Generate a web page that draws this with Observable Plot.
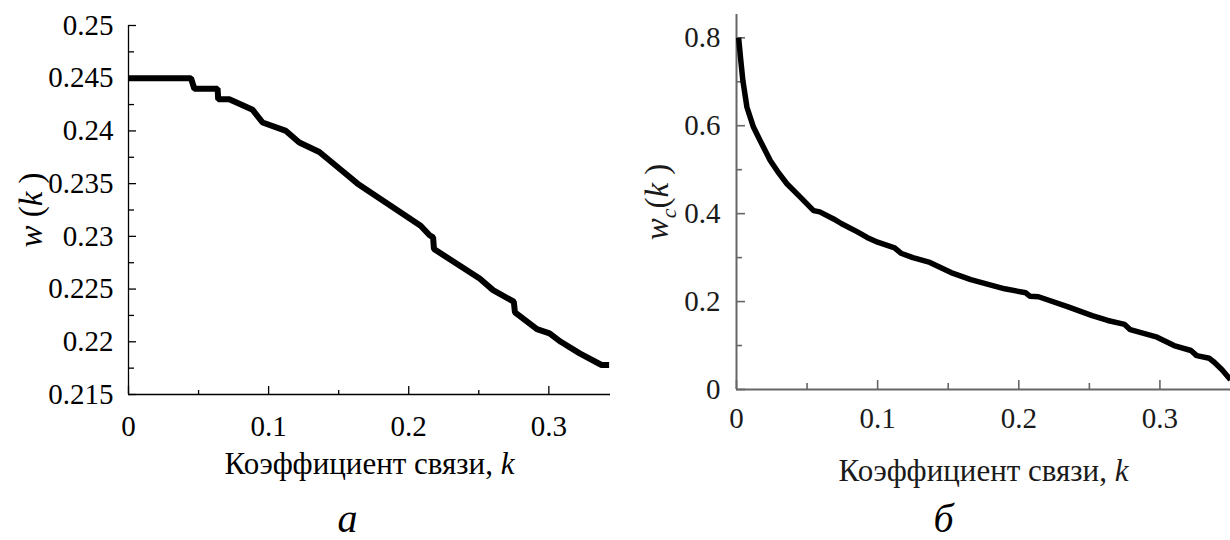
<!DOCTYPE html>
<html><head><meta charset="utf-8">
<script src="https://cdn.jsdelivr.net/npm/d3@7"></script>
<script src="https://cdn.jsdelivr.net/npm/@observablehq/plot@0.6"></script>
<style>
body{margin:0;background:#fff;font-family:"Liberation Serif";}
#wrap{display:flex;width:1230px;height:540px;overflow:hidden;}
#wrap > div{width:615px;height:540px;}
</style></head><body><div id="wrap"><div id="pa"></div><div id="pb"></div></div>
<script>
// Panel а: w(k)
const kA = [0, 0.0446, 0.047, 0.0636, 0.064, 0.0719, 0.0886, 0.0957, 0.1124, 0.1219, 0.1362, 0.1535, 0.1635, 0.2085, 0.2149, 0.2174, 0.2180, 0.2506, 0.2602, 0.2750, 0.2758, 0.2915, 0.3005, 0.3085, 0.3220, 0.3376, 0.343];
const wA = [0.245, 0.245, 0.244, 0.244, 0.243, 0.243, 0.242, 0.2408, 0.240, 0.2389, 0.238, 0.2361, 0.235, 0.231, 0.2301, 0.2299, 0.2288, 0.226, 0.2249, 0.2238, 0.2228, 0.2212, 0.2208, 0.2200, 0.2189, 0.2178, 0.2178];
// Panel б: w_c(k)
const kB = [0.0015, 0.003, 0.0045, 0.0074, 0.012, 0.0168, 0.0239, 0.030, 0.0357, 0.0452, 0.0546, 0.059, 0.0688, 0.0745, 0.086, 0.0925, 0.100, 0.112, 0.1165, 0.125, 0.137, 0.152, 0.166, 0.190, 0.205, 0.208, 0.214, 0.235, 0.252, 0.263, 0.275, 0.279, 0.298, 0.310, 0.322, 0.326, 0.335, 0.3385, 0.344, 0.350];
const wB = [0.80, 0.75, 0.703, 0.642, 0.597, 0.566, 0.521, 0.492, 0.468, 0.4375, 0.407, 0.404, 0.388, 0.377, 0.358, 0.346, 0.335, 0.322, 0.310, 0.300, 0.289, 0.266, 0.250, 0.229, 0.220, 0.212, 0.211, 0.188, 0.168, 0.157, 0.148, 0.136, 0.119, 0.100, 0.0887, 0.077, 0.071, 0.062, 0.045, 0.022];

const xMajor = [0, 0.1, 0.2, 0.3];
const xMinor = [0.05, 0.15, 0.25];
const yMajorA = [0.215, 0.22, 0.225, 0.23, 0.235, 0.24, 0.245, 0.25];
const yMinorA = [0.2175, 0.2225, 0.2275, 0.2325, 0.2375, 0.2425, 0.2475];
const yMajorB = [0, 0.2, 0.4, 0.6, 0.8];
const yMinorB = [0.1, 0.3, 0.5, 0.7];

const xLabel = "Коэффициент связи, k";
const captionA = "а";
const captionB = "б";

const dataA = kA.map((k, i) => ({k, w: wA[i]}));
const dataB = kB.map((k, i) => ({k, w: wB[i]}));
const fmt = d => String(d);

const plotA = Plot.plot({
  width: 615, height: 540,
  marginLeft: 128, marginRight: 5, marginTop: 25, marginBottom: 146,
  style: {fontFamily: "Liberation Serif", fontSize: "28px"},
  x: {domain: [0, 0.344]},
  y: {domain: [0.215, 0.25]},
  marks: [
    Plot.axisY(yMajorA, {tickSize: 0, tickPadding: 15, tickFormat: fmt, fill: "#000", fontSize: 29, label: "w (k)", labelAnchor: "center", labelArrow: "none", labelOffset: 110}),
    Plot.axisY(yMajorA, {tickSize: -8, fill: "none", stroke: "#000", strokeWidth: 1.3}),
    Plot.axisY(yMinorA, {tickSize: -6, fill: "none", stroke: "#000", strokeWidth: 1.3}),
    Plot.axisX(xMajor, {tickSize: 0, tickPadding: 21, tickFormat: fmt, fill: "#000", fontSize: 29, label: xLabel, labelAnchor: "center", labelArrow: "none", labelOffset: 79}),
    Plot.axisX(xMajor, {tickSize: -8, fill: "none", stroke: "#000", strokeWidth: 1.3}),
    Plot.axisX(xMinor, {tickSize: -4, fill: "none", stroke: "#000", strokeWidth: 1.3}),
    Plot.ruleX([0], {stroke: "#000", strokeWidth: 1.3}),
    Plot.ruleY([0.215], {stroke: "#000", strokeWidth: 1.3}),
    Plot.line(dataA, {x: "k", y: "w", stroke: "#000", strokeWidth: 6, strokeLinejoin: "miter", strokeLinecap: "butt"}),
    Plot.text([captionA], {text: d => d, frameAnchor: "bottom", lineAnchor: "bottom", dy: 137, dx: -22, fontSize: 40, fontStyle: "italic", fill: "#000"})
  ]
});

const plotB = Plot.plot({
  width: 615, height: 540,
  marginLeft: 121, marginRight: 0, marginTop: 14, marginBottom: 151,
  style: {fontFamily: "Liberation Serif", fontSize: "28px"},
  x: {domain: [0, 0.35]},
  y: {domain: [0, 0.853]},
  marks: [
    Plot.axisY(yMajorB, {tickSize: 0, tickPadding: 16, tickFormat: fmt, fill: "#1a1a1a", fontSize: 29, label: "wc(k)", labelAnchor: "center", labelArrow: "none", labelOffset: 92}),
    Plot.axisY(yMajorB, {tickSize: -9, fill: "none", stroke: "#666", strokeWidth: 1.6}),
    Plot.axisY(yMinorB, {tickSize: -6, fill: "none", stroke: "#666", strokeWidth: 1.6}),
    Plot.axisX(xMajor, {tickSize: 0, tickPadding: 18, tickFormat: fmt, fill: "#1a1a1a", fontSize: 29, label: xLabel, labelAnchor: "center", labelArrow: "none", labelOffset: 91}),
    Plot.axisX(xMajor, {tickSize: -9, fill: "none", stroke: "#666", strokeWidth: 1.6}),
    Plot.axisX(xMinor, {tickSize: -6, fill: "none", stroke: "#666", strokeWidth: 1.6}),
    Plot.ruleX([0], {stroke: "#666", strokeWidth: 2}),
    Plot.ruleY([0], {stroke: "#666", strokeWidth: 2}),
    Plot.line(dataB, {x: "k", y: "w", stroke: "#000", strokeWidth: 5.5, strokeLinejoin: "miter", strokeLinecap: "butt"}),
    Plot.text([captionB], {text: d => d, frameAnchor: "bottom", lineAnchor: "bottom", dy: 142, dx: -40, fontSize: 40, fontStyle: "italic", fill: "#000"})
  ]
});

document.getElementById("pa").appendChild(plotA);
document.getElementById("pb").appendChild(plotB);

function rich(svg, aria, parts, size) {
  const t = d3.select(svg).select(`g[aria-label="${aria}"] text`);
  if (t.empty()) return;
  t.text(null);
  if (size) t.attr("font-size", size);
  parts.forEach(p => {
    const s = t.append("tspan").text(p.t);
    if (p.i) s.attr("font-style", "italic");
    if (p.size) s.attr("font-size", p.size);
    if (p.dy) s.attr("dy", p.dy);
  });
}
const xParts = [{t: "Коэффициент связи, "}, {t: "k", i: true}];
rich(plotA, "x-axis label", xParts, 31);
rich(plotB, "x-axis label", xParts, 31);
rich(plotA, "y-axis label", [{t: "w", i: true}, {t: " ("}, {t: "k", i: true}, {t: " )"}], 33);
rich(plotB, "y-axis label", [{t: "w", i: true}, {t: "c", i: true, size: 22, dy: 8}, {t: "(", dy: -8}, {t: "k", i: true}, {t: " )"}], 33);
</script>
</body></html>
